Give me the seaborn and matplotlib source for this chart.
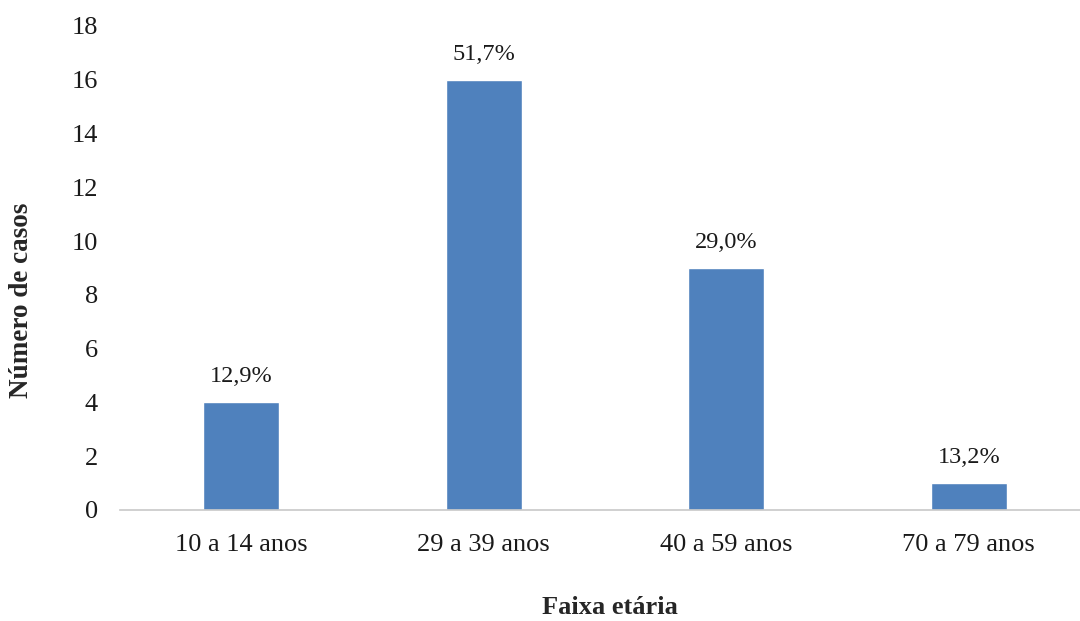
import matplotlib
matplotlib.use("Agg")
import matplotlib.pyplot as plt
import seaborn as sns
import pandas as pd

faixas = ["10 a 14 anos", "29 a 39 anos", "40 a 59 anos", "70 a 79 anos"]
casos = [4, 16, 9, 1]
percentuais = ["12,9%", "51,7%", "29,0%", "13,2%"]
y_ticks = [0, 2, 4, 6, 8, 10, 12, 14, 16, 18]

sns.set_theme(style="white")
plt.rcParams["font.family"] = ["Liberation Serif", "DejaVu Serif"]

df = pd.DataFrame({"faixa": faixas, "casos": casos})

fig = plt.figure(figsize=(10.8, 6.21), dpi=100)
ax = fig.add_axes([120 / 1080, 1 - 510 / 621, 970 / 1080, 484 / 621])

sns.barplot(data=df, x="faixa", y="casos", color="#4F81BD", saturation=1,
            width=0.315, ax=ax)

for patch, rot in zip(ax.patches, percentuais):
    ax.annotate(rot, (patch.get_x() + patch.get_width() / 2, patch.get_height()),
                xytext=(0, 11), textcoords="offset points",
                ha="center", va="bottom", fontsize=17.5, color="#1a1a1a")

ax.set_ylim(0, 18)
ax.set_yticks(y_ticks)
ax.set_xlim(-0.5, len(faixas) - 0.5)
ax.tick_params(axis="both", labelsize=19, colors="#1a1a1a", length=0)
ax.tick_params(axis="x", pad=17)
ax.tick_params(axis="y", pad=16)

for side in ["top", "right", "left"]:
    ax.spines[side].set_visible(False)
ax.spines["bottom"].set_color("#c8c8c8")
ax.spines["bottom"].set_linewidth(1.2)

ax.set_xlabel("Faixa etária", fontsize=19, fontweight="bold", labelpad=29)
ax.set_ylabel("Número de casos", fontsize=19.5, fontweight="bold", labelpad=27)
ax.xaxis.label.set_x(0.505)
ax.yaxis.label.set_y(0.434)

fig.savefig("out.png", dpi=100)
